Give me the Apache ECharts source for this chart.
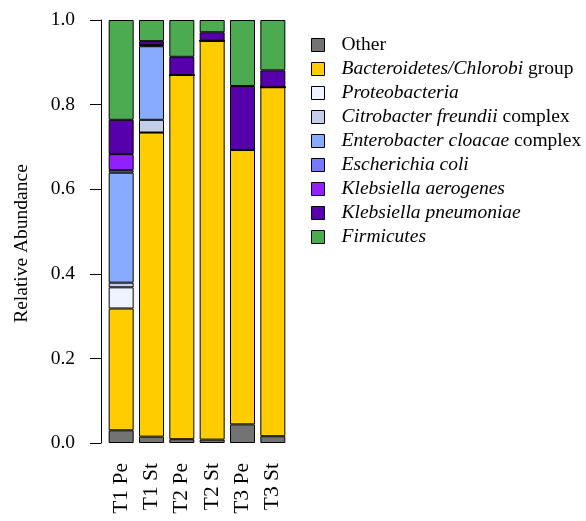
<!DOCTYPE html>
<html>
<head>
<meta charset="utf-8">
<script src="https://cdn.jsdelivr.net/npm/echarts@6/dist/echarts.min.js"></script>
<style>html,body{margin:0;padding:0;background:#fff;}#c{width:586px;height:521px;}</style>
</head>
<body>
<div id="c"></div>
<script>
var categories = ['T1 Pe', 'T1 St', 'T2 Pe', 'T2 St', 'T3 Pe', 'T3 St'];
var yTicks = [0, 0.2, 0.4, 0.6, 0.8, 1.0];

var other          = [0.030, 0.015, 0.009, 0.008, 0.044, 0.016];
var bacteroidetes  = [0.288, 0.719, 0.861, 0.943, 0.649, 0.825];
var proteobacteria = [0.050, 0.000, 0.000, 0.000, 0.000, 0.000];
var citrobacter    = [0.011, 0.030, 0.000, 0.000, 0.000, 0.000];
var enterobacter   = [0.260, 0.174, 0.000, 0.000, 0.000, 0.000];
var ecoli          = [0.006, 0.002, 0.000, 0.000, 0.000, 0.000];
var kaerogenes     = [0.038, 0.001, 0.000, 0.000, 0.000, 0.000];
var kpneumoniae    = [0.081, 0.009, 0.043, 0.020, 0.151, 0.040];
var firmicutes     = [0.236, 0.050, 0.087, 0.029, 0.156, 0.119];

var seriesNames = ['Other', 'Bacteroidetes/Chlorobi group', 'Proteobacteria',
  'Citrobacter freundii complex', 'Enterobacter cloacae complex', 'Escherichia coli',
  'Klebsiella aerogenes', 'Klebsiella pneumoniae', 'Firmicutes'];
var legendRich = {
  'Other': '{s|}{n|Other}',
  'Bacteroidetes/Chlorobi group': '{s|}{i|Bacteroidetes/Chlorobi}{n| group}',
  'Proteobacteria': '{s|}{i|Proteobacteria}',
  'Citrobacter freundii complex': '{s|}{i|Citrobacter freundii}{n| complex}',
  'Enterobacter cloacae complex': '{s|}{i|Enterobacter cloacae}{n| complex}',
  'Escherichia coli': '{s|}{i|Escherichia coli}',
  'Klebsiella aerogenes': '{s|}{i|Klebsiella aerogenes}',
  'Klebsiella pneumoniae': '{s|}{i|Klebsiella pneumoniae}',
  'Firmicutes': '{s|}{i|Firmicutes}'
};
var seriesData = [other, bacteroidetes, proteobacteria, citrobacter, enterobacter,
  ecoli, kaerogenes, kpneumoniae, firmicutes];
var colors = ['#737373', '#FFCC00', '#EEF3FF', '#C4CEE8', '#88AAFF', '#7777FF',
  '#9020FF', '#5500AA', '#4CAA50'];

var FONT = 'Liberation Serif';
var FS = 19.5;
var chart = echarts.init(document.getElementById('c'), null, {renderer: 'canvas'});
chart.setOption({
  animation: false,
  backgroundColor: '#fff',
  color: colors,
  grid: {left: 106, top: 20, width: 182, bottom: 78, containLabel: false},
  legend: {
    orient: 'vertical',
    left: 306,
    top: 30,
    itemWidth: 13,
    itemHeight: 13,
    itemGap: 4,
    icon: 'rect',
    itemStyle: {borderColor: '#000', borderWidth: 1},
    data: seriesNames,
    formatter: function (n) { return legendRich[n]; },
    textStyle: {
      fontFamily: FONT, fontSize: FS, color: '#000',
      rich: {
        s: {width: 12, fontFamily: FONT, fontSize: FS},
        i: {fontStyle: 'italic', fontFamily: FONT, fontSize: FS, color: '#000'},
        n: {fontFamily: FONT, fontSize: FS, color: '#000'}
      }
    }
  },
  xAxis: {
    type: 'category',
    data: categories,
    axisLine: {show: false},
    axisTick: {show: false},
    axisLabel: {rotate: 90, margin: 20, fontFamily: FONT, fontSize: 21.5, color: '#000'}
  },
  yAxis: {
    type: 'value',
    min: 0, max: 1, interval: 0.2,
    offset: 5,
    splitLine: {show: false},
    axisLine: {show: true, lineStyle: {color: '#000', width: 1}},
    axisTick: {show: true, length: 11, lineStyle: {color: '#000'}},
    axisLabel: {
      fontFamily: FONT, fontSize: FS, color: '#000', margin: 26,
      formatter: function (v) { return v.toFixed(1); }
    },
    name: 'Relative Abundance',
    nameLocation: 'middle',
    nameGap: 69,
    nameTextStyle: {fontFamily: FONT, fontSize: FS, color: '#000', padding: [0, 24, 0, 0]}
  },
  series: seriesNames.map(function (n, k) {
    return {
      name: n,
      type: 'bar',
      stack: 'all',
      barWidth: 25,
      data: seriesData[k],
      itemStyle: {color: colors[k], borderColor: '#000', borderWidth: 1}
    };
  })
});
</script>
</body>
</html>
